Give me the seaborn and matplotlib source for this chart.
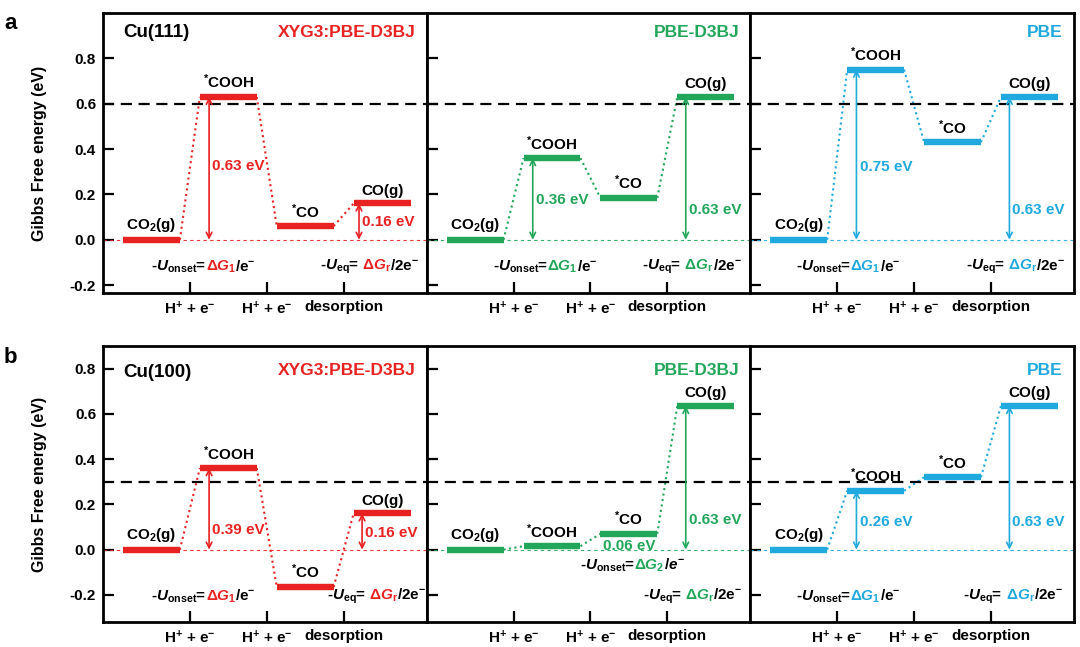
import numpy as np
import pandas as pd
import matplotlib
matplotlib.use("Agg")
import matplotlib.pyplot as plt
import seaborn as sns
from matplotlib.offsetbox import TextArea, HPacker, AnnotationBbox

# ---------------- data ----------------
states = ["CO$_2$(g)", "$^{*}$COOH", "$^{*}$CO", "CO(g)"]
steps = ["H$^{+}$ + e$^{-}$", "H$^{+}$ + e$^{-}$", "desorption"]
methods = ["XYG3:PBE-D3BJ", "PBE-D3BJ", "PBE"]
surfaces = ["Cu(111)", "Cu(100)"]

cu111_xyg3 = [0.00, 0.63, 0.06, 0.16]
cu111_pbed3 = [0.00, 0.36, 0.185, 0.63]
cu111_pbe = [0.00, 0.75, 0.43, 0.63]
cu100_xyg3 = [0.00, 0.36, -0.165, 0.16]
cu100_pbed3 = [0.00, 0.015, 0.07, 0.635]
cu100_pbe = [0.00, 0.26, 0.32, 0.635]

limiting_lines = [0.6, 0.3]

# arrows: (target state index, label)
cu111_arrows = [[(1, "0.63 eV"), (3, "0.16 eV")],
                [(1, "0.36 eV"), (3, "0.63 eV")],
                [(1, "0.75 eV"), (3, "0.63 eV")]]
cu100_arrows = [[(1, "0.39 eV"), (3, "0.16 eV")],
                [(3, "0.63 eV")],
                [(1, "0.26 eV"), (3, "0.63 eV")]]
onset_sub = [["1", "1", "1"], ["1", "2", "1"]]

# ---------------- style ----------------
sns.set_theme(style="ticks")
plt.rcParams["font.family"] = ["Liberation Sans", "DejaVu Sans"]
plt.rcParams["font.weight"] = "bold"
plt.rcParams["axes.labelweight"] = "bold"
plt.rcParams["axes.unicode_minus"] = False
plt.rcParams["mathtext.fontset"] = "custom"
plt.rcParams["mathtext.rm"] = "Liberation Sans:bold"
plt.rcParams["mathtext.bf"] = "Liberation Sans:bold"
plt.rcParams["mathtext.it"] = "Liberation Sans:italic:bold"
plt.rcParams["mathtext.sf"] = "Liberation Sans:bold"
plt.rcParams["lines.solid_capstyle"] = "butt"
for key in ["axes.edgecolor", "xtick.color", "ytick.color", "text.color",
            "axes.labelcolor", "xtick.labelcolor", "ytick.labelcolor"]:
    plt.rcParams[key] = "black"

colors = ["#e82121", "#22a65a", "#1fa9df"]
FS = 11
HW = 0.37

fig = plt.figure(figsize=(10.8, 6.47), dpi=100)

left_px, right_px = 103, 1074
W, H = 1080, 647
pw = (right_px - left_px) / 3
rows = [(13, 293, (-0.235, 1.0)), (346, 622, (-0.32, 0.9))]

energies = [[cu111_xyg3, cu111_pbed3, cu111_pbe],
            [cu100_xyg3, cu100_pbed3, cu100_pbe]]
arrows = [cu111_arrows, cu100_arrows]

# layout of annotations (positions only)
gap_label_y = [[[0.325, 0.08], [0.176, 0.13], [0.32, 0.13]],
               [[0.088, 0.075], [0.13], [0.12, 0.12]]]
arrow_x = {1: 0.75, 3: 2.74}
onset_pos = [[(0.0, -0.12), (0.23, -0.12), (-0.04, -0.12)],
             [(0.0, -0.208), (1.36, -0.07), (-0.04, -0.208)]]
eq_pos = [[(2.19, -0.12), (2.17, -0.12), (2.17, -0.12)],
          [(2.28, -0.208), (2.18, -0.208), (2.14, -0.208)]]


def multicolor(ax, x, y, pieces):
    areas = [TextArea(s, textprops=dict(color=c, fontsize=FS, fontweight="bold"))
             for s, c in pieces]
    box = HPacker(children=areas, align="baseline", pad=0, sep=-0.6)
    ab = AnnotationBbox(box, (x, y), xycoords="data", frameon=False,
                        box_alignment=(0, 0.5), pad=0, annotation_clip=False)
    ax.add_artist(ab)


for r, (top_px, bot_px, ylim) in enumerate(rows):
    for p in range(3):
        c = colors[p]
        E = np.array(energies[r][p])
        ax = fig.add_axes([(left_px + p * pw) / W, 1 - bot_px / H,
                           pw / W, (bot_px - top_px) / H])
        xc = np.arange(len(E))
        # levels
        lev = pd.DataFrame({"x": np.r_[xc - HW, xc + HW], "E": np.r_[E, E],
                            "state": list(range(len(E))) * 2})
        sns.lineplot(data=lev, x="x", y="E", units="state", estimator=None,
                     color=c, lw=4.6, ax=ax, legend=False, sort=True)
        # connectors
        con = pd.DataFrame({"x": np.r_[xc[:-1] + HW, xc[1:] - HW],
                            "E": np.r_[E[:-1], E[1:]],
                            "seg": list(range(len(E) - 1)) * 2})
        sns.lineplot(data=con, x="x", y="E", units="seg", estimator=None,
                     color=c, lw=1.5, ls=":", ax=ax, legend=False, sort=True)
        # reference lines
        ax.axhline(0, color=c, lw=0.8, ls=(0, (3, 3)), alpha=0.9)
        ax.axhline(limiting_lines[r], color="black", lw=1.6, ls=(0, (5, 3)))

        # state labels
        for i, s in enumerate(states):
            ax.annotate(s, (xc[i], E[i]), xytext=(0, 4), textcoords="offset points",
                        ha="center", va="bottom", fontsize=FS, fontweight="bold",
                        color="black")
        # arrows
        for k, (idx, lab) in enumerate(arrows[r][p]):
            xa = arrow_x[idx] if not (r == 0 and p == 0 and idx == 3) else 2.70
            ax.annotate("", xy=(xa, E[idx]), xytext=(xa, 0),
                        arrowprops=dict(arrowstyle="<->", color=c, lw=1.2,
                                        shrinkA=0, shrinkB=0, mutation_scale=10))
            ax.text(xa + 0.04, gap_label_y[r][p][k], lab, color=c, fontsize=FS,
                    fontweight="bold", ha="left", va="center")
        if r == 1 and p == 1:
            ax.text(1.66, 0.018, "0.06 eV", color=c, fontsize=FS,
                    fontweight="bold", ha="left", va="center")

        # equations
        sub = onset_sub[r][p]
        e_piece = "/$e^{-}$" if (r == 1 and p == 1) else "/e$^{-}$"
        multicolor(ax, *onset_pos[r][p],
                   [("-$U_{\\mathrm{onset}}$=", "black"),
                    ("Δ$G_{" + sub + "}$", c), (e_piece, "black")])
        multicolor(ax, *eq_pos[r][p],
                   [("-$U_{\\mathrm{eq}}$=", "black"),
                    (" Δ$G_{\\mathrm{r}}$", c), ("/2e$^{-}$", "black")])

        # titles
        ax.text(0.966, 0.93 if r == 0 else 0.91, methods[p], transform=ax.transAxes,
                ha="right", va="center", color=c, fontsize=12.5, fontweight="bold")
        if p == 0:
            ax.text(0.062, 0.93 if r == 0 else 0.905, surfaces[r],
                    transform=ax.transAxes, ha="left", va="center",
                    color="black", fontsize=13.5, fontweight="bold")

        # axes
        ax.set_xlim(-0.63, 3.58)
        ax.set_ylim(*ylim)
        ax.set_xticks([0.5, 1.5, 2.5])
        ax.set_xticklabels(steps)
        ax.set_yticks([-0.2, 0.0, 0.2, 0.4, 0.6, 0.8])
        ax.tick_params(direction="in", length=8, width=1.6, labelsize=FS, pad=5,
                       color="black", labelcolor="black")
        for lbl in ax.get_xticklabels() + ax.get_yticklabels():
            lbl.set_fontweight("bold")
        ax.set_xlabel("")
        if p == 0:
            ax.set_yticklabels(["-0.2", "0.0", "0.2", "0.4", "0.6", "0.8"])
            ax.set_ylabel("Gibbs Free energy (eV)", fontsize=FS + 0.5,
                          fontweight="bold", color="black")
            ax.yaxis.set_label_coords(-0.173, 0.5)
        else:
            ax.set_yticklabels([])
            ax.set_ylabel("")
        for sp in ax.spines.values():
            sp.set_linewidth(2)
            sp.set_color("black")
            sp.set_visible(True)

fig.text(0.010, 0.963, "a", fontsize=16, fontweight="bold", ha="center", va="center")
fig.text(0.010, 0.448, "b", fontsize=16, fontweight="bold", ha="center", va="center")

fig.savefig("out.png", dpi=100)
